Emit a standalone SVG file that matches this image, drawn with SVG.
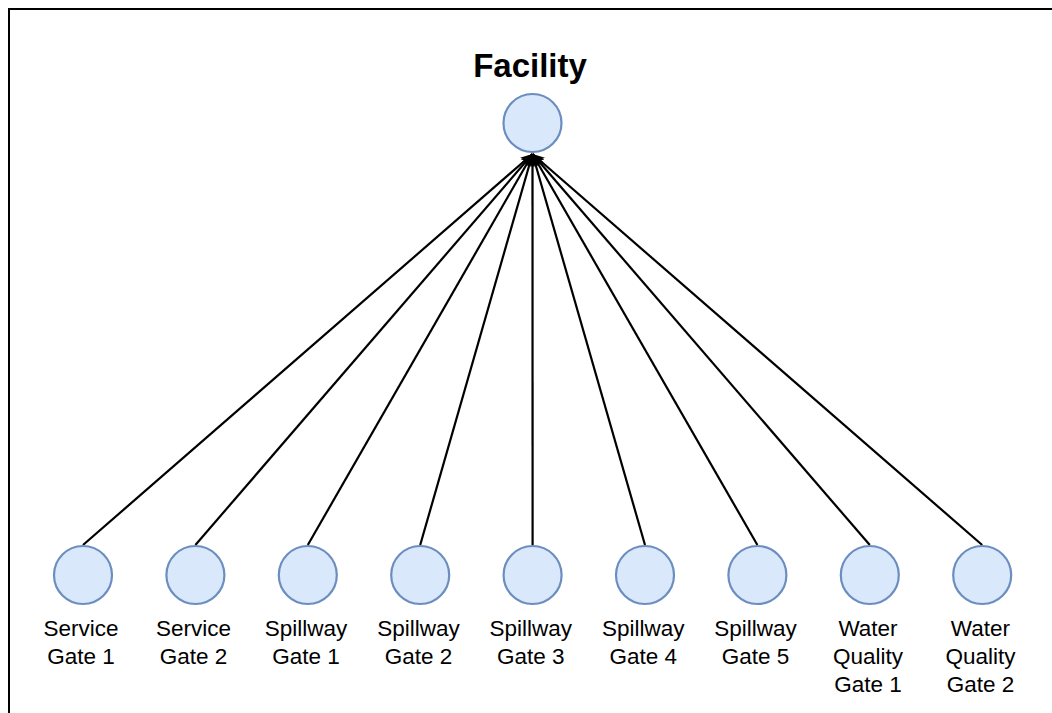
<svg xmlns="http://www.w3.org/2000/svg" width="1052" height="713" viewBox="0 0 1052 713">
  <style>
    .node { fill: #dae8fc; stroke: #6c8ebf; stroke-width: 2.2; }
    .edge { stroke: #000; stroke-width: 2.2; fill: none; marker-end: url(#arrow); }
    .lbl { font-family: "Liberation Sans", Arial, sans-serif; font-size: 22.5px; fill: #000; text-anchor: middle; }
    .title { font-family: "Liberation Sans", Arial, sans-serif; font-size: 33px; font-weight: bold; fill: #000; text-anchor: middle; }
  </style>
  <defs>
    <marker id="arrow" markerUnits="userSpaceOnUse" markerWidth="14" markerHeight="12" refX="12" refY="5.5" orient="auto">
      <path d="M0,0 L12,5.5 L0,11 L3,5.5 Z" fill="#000"/>
    </marker>
  </defs>
  <rect width="1052" height="713" fill="#fff"/>
  <!-- frame (only top and left edges fall inside the canvas) -->
  <path d="M9,713 V9 H1052" fill="none" stroke="#000" stroke-width="2"/>

  <g id="connectors">
    <line class="edge" x1="83" y1="545" x2="532.5" y2="154"/>
    <line class="edge" x1="195.4" y1="545" x2="532.5" y2="154"/>
    <line class="edge" x1="307.8" y1="545" x2="532.5" y2="154"/>
    <line class="edge" x1="420.2" y1="545" x2="532.5" y2="154"/>
    <line class="edge" x1="532.6" y1="545" x2="532.5" y2="154"/>
    <line class="edge" x1="645" y1="545" x2="532.5" y2="154"/>
    <line class="edge" x1="757.4" y1="545" x2="532.5" y2="154"/>
    <line class="edge" x1="869.8" y1="545" x2="532.5" y2="154"/>
    <line class="edge" x1="982.2" y1="545" x2="532.5" y2="154"/>
  </g>

  <g id="facility">
    <text class="title" x="530" y="77">Facility</text>
    <circle class="node" cx="532.5" cy="123" r="29"/>
  </g>

  <g id="service-gate-1">
    <circle class="node" cx="83" cy="575" r="29"/>
    <text class="lbl" x="81" y="636">Service</text>
    <text class="lbl" x="81" y="664">Gate 1</text>
  </g>
  <g id="service-gate-2">
    <circle class="node" cx="195.4" cy="575" r="29"/>
    <text class="lbl" x="193.4" y="636">Service</text>
    <text class="lbl" x="193.4" y="664">Gate 2</text>
  </g>
  <g id="spillway-gate-1">
    <circle class="node" cx="307.8" cy="575" r="29"/>
    <text class="lbl" x="306" y="636">Spillway</text>
    <text class="lbl" x="306" y="664">Gate 1</text>
  </g>
  <g id="spillway-gate-2">
    <circle class="node" cx="420.2" cy="575" r="29"/>
    <text class="lbl" x="418.4" y="636">Spillway</text>
    <text class="lbl" x="418.4" y="664">Gate 2</text>
  </g>
  <g id="spillway-gate-3">
    <circle class="node" cx="532.6" cy="575" r="29"/>
    <text class="lbl" x="530.8" y="636">Spillway</text>
    <text class="lbl" x="530.8" y="664">Gate 3</text>
  </g>
  <g id="spillway-gate-4">
    <circle class="node" cx="645" cy="575" r="29"/>
    <text class="lbl" x="643.2" y="636">Spillway</text>
    <text class="lbl" x="643.2" y="664">Gate 4</text>
  </g>
  <g id="spillway-gate-5">
    <circle class="node" cx="757.4" cy="575" r="29"/>
    <text class="lbl" x="755.6" y="636">Spillway</text>
    <text class="lbl" x="755.6" y="664">Gate 5</text>
  </g>
  <g id="water-quality-gate-1">
    <circle class="node" cx="869.8" cy="575" r="29"/>
    <text class="lbl" x="868" y="636">Water</text>
    <text class="lbl" x="868" y="664">Quality</text>
    <text class="lbl" x="868" y="692">Gate 1</text>
  </g>
  <g id="water-quality-gate-2">
    <circle class="node" cx="982.2" cy="575" r="29"/>
    <text class="lbl" x="980.4" y="636">Water</text>
    <text class="lbl" x="980.4" y="664">Quality</text>
    <text class="lbl" x="980.4" y="692">Gate 2</text>
  </g>
</svg>
